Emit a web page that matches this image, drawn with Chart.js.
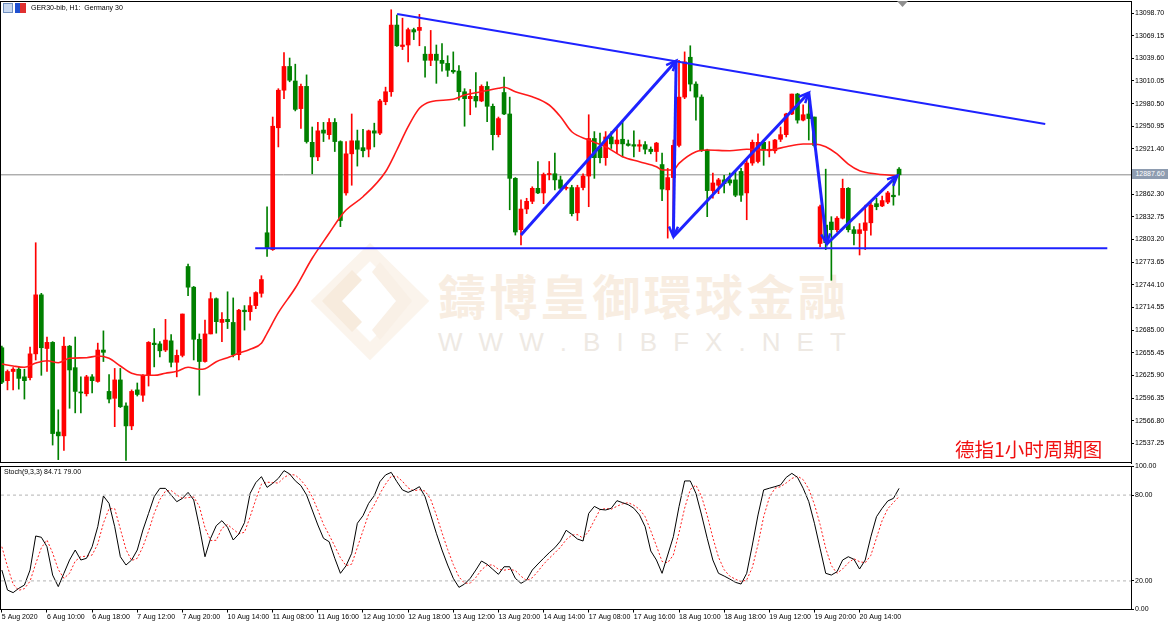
<!DOCTYPE html>
<html>
<head>
<meta charset="utf-8">
<script src="https://cdn.jsdelivr.net/npm/chart.js@4.4.0/dist/chart.umd.min.js"></script>
<style>
body{margin:0;background:#fff;}
#wrap{position:relative;width:1170px;height:622px;overflow:hidden;background:#fff;font-family:"Liberation Sans",Arial,sans-serif;}
.layer{position:absolute;left:0;}
.txt{position:absolute;white-space:pre;color:#000;font-size:7px;}
.wm{position:absolute;display:flex;justify-content:space-between;}
</style>
</head>
<body>
<div id="wrap">
  <!-- watermark behind the transparent canvases -->
  <svg class="layer" style="top:0" width="1170" height="466">
    <polygon points="370,252 420,301 370,351 320,301" fill="none" stroke="#fbf4ec" stroke-width="13"/>
    <polygon points="352,270 322,301 352,332 362,322 342,301 362,280" fill="#f7ebdd"/>
    <polygon points="380,262 412,301 380,340 372,330 396,301 372,272" fill="#f9f0e6"/>
  </svg>
  <div class="wm" style="left:438px;top:259px;width:408px;font:700 48px 'Noto Sans CJK TC';color:#f8ede1;">
    <span>鑄</span><span>博</span><span>皇</span><span>御</span><span>環</span><span>球</span><span>金</span><span>融</span>
  </div>
  <div class="wm" style="left:438px;top:327px;width:408px;font:26px 'Liberation Sans';color:#eee9e3;">
    <span>W</span><span>W</span><span>W</span><span>.</span><span>B</span><span>I</span><span>B</span><span>F</span><span>X</span><span>.</span><span>N</span><span>E</span><span>T</span>
  </div>

  <div class="layer" style="top:0"><canvas id="mainChart" width="1170" height="466"></canvas></div>
  <div class="layer" style="top:458px"><canvas id="stochChart" width="1170" height="164"></canvas></div>

  <div style="position:absolute;left:3px;top:3px;width:10px;height:10px;background:#c8d8f0;border:1px solid #7090c0;box-sizing:border-box"></div>
  <div style="position:absolute;left:15px;top:3px;width:5px;height:10px;background:#2050d0"></div>
  <div style="position:absolute;left:20px;top:3px;width:6px;height:10px;background:#e03030"></div>
  <div class="txt" style="left:31px;top:4px;">GER30-bib, H1:  Germany 30</div>
  <div class="txt" style="left:4px;top:468px;">Stoch(9,3,3) 84.71 79.00</div>
  <div style="position:absolute;left:955px;top:434px;font:19.5px 'Noto Sans CJK SC';color:#f01010;">德指1小时周期图</div>
  <div id="priceTag" class="txt" style="left:1132px;top:169px;width:36px;height:10px;line-height:10px;background:#8e9cb0;color:#fff;text-align:center;"></div>
  <svg style="position:absolute;left:897px;top:0" width="12" height="8"><polygon points="0,1 11,1 5.5,7" fill="#909090"/></svg>
</div>

<script>
// ---- data ----
const timeLabels = ['5 Aug 2020','6 Aug 10:00','6 Aug 18:00','7 Aug 12:00','7 Aug 20:00','10 Aug 14:00',
  '11 Aug 08:00','11 Aug 16:00','12 Aug 10:00','12 Aug 18:00','13 Aug 12:00','13 Aug 20:00','14 Aug 14:00',
  '17 Aug 08:00','17 Aug 16:00','18 Aug 10:00','18 Aug 18:00','19 Aug 12:00','19 Aug 20:00','20 Aug 14:00'];
const labelStep = 8;

const priceTicks = [13098.70,13069.15,13039.60,13010.05,12980.50,12950.95,12921.40,12891.85,12862.30,12832.75,
  12803.20,12773.65,12744.10,12714.55,12685.00,12655.45,12625.90,12596.35,12566.80,12537.25];
const stochTicks = [100,80,20,0];
const stochLevels = [80,20];

const opens = [12662,12619,12631,12634,12624,12623,12654,12731,12661,12669,
  12552,12547,12664,12636,12604,12602,12624,12618,12659,12605,
  12596,12620,12586,12560,12607,12600,12626,12668,12667,12659,
  12671,12643,12652,12768,12741,12673,12644,12680,12726,12695,
  12699,12695,12653,12711,12709,12717,12733,12812,12790,12949,
  12998,13029,13010,12974,13003,12930,12911,12946,12940,12956,
  12931,12864,12915,12932,12923,12921,12945,12942,12983,12996,
  13083,13055,13057,13077,13076,13045,13037,13045,13037,13033,
  13024,13023,12996,12987,12990,12984,13003,12977,12940,12995,
  12967,12883,12816,12843,12853,12870,12864,12888,12889,12881,
  12870,12871,12838,12871,12886,12935,12924,12910,12937,12928,
  12934,12928,12927,12925,12927,12921,12918,12901,12868,12884,
  12926,12989,13041,13006,12989,12920,12867,12874,12881,12881,
  12881,12892,12864,12903,12905,12930,12919,12919,12934,12940,
  12967,12993,12959,12967,12963,12798,12822,12826,12816,12831,
  12870,12816,12811,12815,12825,12850,12847,12852,12861,12895];
const highs = [12664,12633,12636,12637,12634,12663,12799,12733,12676,12670,
  12581,12676,12665,12676,12624,12626,12627,12668,12684,12627,
  12635,12635,12590,12607,12616,12627,12670,12687,12670,12699,
  12679,12659,12706,12771,12742,12680,12698,12734,12727,12708,
  12735,12727,12712,12717,12728,12735,12756,12846,12963,13000,
  13047,13040,13032,13006,13018,12950,12956,12956,12961,12961,
  12932,12931,12967,12946,12947,12946,12955,12986,13002,13103,
  13096,13092,13079,13079,13097,13055,13076,13057,13059,13043,
  13048,13030,13000,12999,13021,13005,13009,12980,12963,13015,
  12989,12884,12855,12857,12872,12905,12890,12905,12916,12886,
  12874,12874,12874,12889,12966,12944,12942,12944,12944,12948,
  12957,12933,12945,12933,12931,12924,12930,12916,12896,12933,
  13037,13048,13056,13009,12992,12921,12890,12883,12887,12890,
  12892,12896,12907,12933,12941,12933,12931,12934,12950,12968,
  12993,12994,12979,12994,12963,12848,12895,12833,12833,12882,
  12871,12820,12824,12848,12853,12857,12860,12866,12881,12897];
const lows = [12615,12607,12607,12608,12595,12620,12646,12626,12631,12535,
  12516,12528,12583,12577,12577,12599,12603,12617,12644,12590,
  12559,12584,12515,12555,12599,12592,12612,12637,12650,12657,
  12637,12624,12650,12730,12646,12600,12643,12680,12681,12670,
  12687,12650,12646,12685,12698,12713,12728,12781,12789,12924,
  12987,13009,12971,12948,12929,12889,12906,12931,12934,12918,
  12820,12861,12874,12899,12911,12911,12924,12940,12979,12990,
  13055,13051,13035,13064,13056,13015,13030,13007,13023,13016,
  13020,12985,12951,12966,12976,12983,12957,12920,12937,12966,
  12842,12809,12796,12837,12850,12863,12850,12881,12868,12868,
  12868,12834,12828,12868,12846,12883,12903,12900,12922,12916,
  12911,12925,12911,12918,12915,12915,12905,12854,12805,12809,
  12924,12987,12997,12959,12918,12833,12857,12863,12864,12874,
  12859,12853,12829,12900,12903,12900,12911,12916,12931,12937,
  12966,12955,12958,12933,12924,12794,12790,12750,12813,12830,
  12813,12796,12783,12790,12809,12842,12846,12850,12848,12861];
const closes = [12617,12631,12634,12622,12619,12654,12731,12662,12669,12550,
  12547,12664,12633,12605,12603,12624,12619,12659,12656,12595,
  12620,12585,12560,12605,12601,12626,12669,12666,12658,12672,
  12643,12652,12706,12741,12673,12644,12680,12726,12696,12699,
  12696,12653,12711,12709,12717,12734,12751,12792,12951,12998,
  13029,13011,12973,13003,12931,12911,12945,12942,12956,12931,
  12828,12915,12932,12921,12919,12945,12942,12984,12996,13083,
  13056,13057,13077,13074,13080,13037,13045,13037,13033,13024,
  13022,12996,12987,12990,12984,13003,12977,12940,12961,12967,
  12883,12813,12843,12853,12870,12864,12888,12889,12881,12870,
  12871,12837,12871,12886,12935,12910,12910,12937,12928,12933,
  12928,12926,12925,12927,12921,12918,12929,12869,12884,12926,
  12989,13035,13006,12989,12920,12867,12877,12881,12876,12877,
  12861,12861,12903,12930,12930,12920,12921,12933,12940,12967,
  12993,12959,12966,12961,12926,12846,12799,12816,12831,12870,
  12816,12811,12816,12825,12848,12846,12854,12864,12859,12887.6];

// moving average
const maBars = [0,2,4,6,8,10,12,15,17,19,21,23,25,27,29,31,33,35,36,38,40,42,44,46,47,49,52,55,58,60,
  61,64,68,70,72,74,76,80,82,85,88,89,91,94,97,99,101,104,107,110,113,116,117,119,120,123,125,129,132,136,
  139,142,144,146,148,150,152,155,157,159];
const maValues = [12640.8,12638.2,12636.5,12642.1,12645.1,12642.5,12648.2,12649.0,12651.2,12648.2,
  12638.2,12628.7,12626.0,12626.0,12628.7,12631.3,12636.5,12633.9,12634.6,12643.8,
  12649.0,12654.7,12660.0,12667.8,12680.8,12707.7,12739.9,12778.7,12811.3,12833.0,
  12841.7,12859.0,12891.7,12920.0,12950.4,12974.4,12983.0,12986.1,12991.7,12996.0,
  13000.5,13001.8,12996.0,12989.5,12978.7,12963.4,12943.8,12933.0,12924.3,12911.2,
  12904.7,12898.2,12893.9,12893.9,12902.6,12917.8,12920.0,12919.1,12920.9,12920.0,
  12924.3,12927.8,12927.8,12924.3,12914.8,12901.7,12893.0,12888.7,12887.4,12886.4];

const stochK = [27.6,13.6,11.8,14.8,17.1,27.6,51.4,50.5,43.9,24.1,
  16.0,25.3,34.6,41.6,34.6,35.8,43.9,57.9,79.4,74.2,
  57.9,36.9,31.1,34.6,41.6,55.6,67.2,78.9,84.7,84.7,
  80.1,75.4,77.7,81.9,76.6,57.9,36.9,49.8,58.6,62.1,
  57.5,48.6,52.8,60.7,81.2,88.7,92.9,85.4,88.2,91.7,
  97.1,94.8,90.0,86.6,80.1,69.6,59.1,49.8,47.4,35.8,
  25.3,30.6,39.3,60.3,65.6,74.2,79.6,89.4,94.1,95.9,
  89.4,83.6,81.9,83.6,85.9,78.9,66.1,53.3,41.6,31.1,
  21.8,15.5,17.8,21.8,27.6,33.9,31.6,28.1,24.6,29.9,
  29.9,21.8,18.3,20.6,27.6,31.8,35.8,39.7,43.2,47.9,
  55.4,52.6,49.3,47.9,67.2,72.1,70.0,69.6,70.8,76.1,
  74.7,73.3,70.8,66.1,57.9,40.9,34.6,25.3,38.1,50.9,
  71.9,89.9,89.9,81.2,66.1,49.8,34.6,25.3,23.4,21.3,
  19.0,17.8,25.3,45.1,66.1,83.6,84.8,85.9,87.1,92.4,
  95.2,92.4,84.8,75.4,60.3,42.8,25.3,24.1,26.4,34.6,
  36.9,35.1,28.3,34.6,50.9,64.9,70.8,75.9,77.7,84.71];
const stochD = [43.9,30.0,17.7,13.4,14.6,19.8,32.0,43.2,48.6,39.5,
  28.0,21.8,25.3,33.8,36.9,37.3,38.1,45.9,60.4,70.5,
  70.5,56.3,42.0,34.2,35.8,43.9,54.8,67.2,76.9,82.8,
  83.2,80.1,77.7,78.3,78.7,72.1,57.1,48.2,48.4,56.8,
  59.4,56.1,53.0,54.0,64.9,76.9,87.6,89.0,88.8,88.4,
  92.3,94.5,94.0,90.5,85.6,78.8,69.6,59.5,52.1,44.3,
  36.2,30.6,31.7,43.4,55.1,66.7,73.1,81.1,87.7,93.1,
  93.1,89.6,85.0,83.0,83.8,82.8,77.0,66.1,53.7,42.0,
  31.5,22.8,18.4,18.4,22.4,27.8,31.0,31.2,28.1,27.5,
  28.1,27.2,23.3,20.2,22.2,26.7,31.7,35.8,39.6,43.6,
  48.8,52.0,52.4,49.9,54.8,62.4,69.8,70.6,70.1,72.2,
  73.9,74.7,72.9,70.1,64.9,55.0,44.5,33.6,32.7,38.1,
  53.6,70.9,83.9,87.0,79.1,65.7,50.2,36.6,27.8,23.3,
  21.2,19.4,20.7,29.4,45.5,64.9,78.2,84.8,85.9,88.5,
  91.6,93.3,90.8,84.2,73.5,59.5,42.8,30.7,25.3,28.4,
  32.6,35.5,33.4,32.7,37.9,50.1,62.2,70.5,74.8,79.0];

// drawn objects (bar index, price)
const resistBars = [70.05,184.9];
const resistPrices = [13097.4,12953.9];
const supportBars = [44.9,195.9];
const supportPrices = [12791.8,12791.8];
const arrowBars = [92.0,119.5,119.0,143.0,146.2,158.7];
const arrowPrices = [12809,13036.5,12806.9,12994.8,12797.4,12886.5];

// ---- layout constants ----
const X_MIN = -0.15, X_MAX = 200.1;
const UP = '#ff0000', DOWN = '#008000';
const BLUE = '#1e22ff';
const lastPrice = closes[closes.length-1];
const FONT = {family:'"Liberation Sans", Arial, sans-serif', size:7};

document.getElementById('priceTag').textContent = lastPrice.toFixed(2);

const candleColors = closes.map((c,i) => c >= opens[i] ? UP : DOWN);

const framePlugin = {
  id:'frame',
  afterDraw(chart){
    const a = chart.chartArea, ctx = chart.ctx;
    ctx.save();
    ctx.strokeStyle = '#000';
    ctx.lineWidth = 1;
    ctx.strokeRect(Math.round(a.left)-0.5, Math.round(a.top)-0.5, Math.round(a.right-a.left)+1, Math.round(a.bottom-a.top));
    ctx.restore();
  }
};

const arrowPlugin = {
  id:'arrowHeads',
  afterDatasetsDraw(chart){
    const ctx = chart.ctx;
    chart.data.datasets.forEach((ds, di) => {
      if (!ds.arrowEnd) return;
      const pts = chart.getDatasetMeta(di).data;
      const a = pts[pts.length-2], b = pts[pts.length-1];
      const ang = Math.atan2(b.y-a.y, b.x-a.x);
      const L = 11, spread = 0.42;
      ctx.save();
      ctx.strokeStyle = ds.borderColor;
      ctx.lineWidth = 2.5;
      ctx.beginPath();
      ctx.moveTo(b.x - L*Math.cos(ang-spread), b.y - L*Math.sin(ang-spread));
      ctx.lineTo(b.x, b.y);
      ctx.lineTo(b.x - L*Math.cos(ang+spread), b.y - L*Math.sin(ang+spread));
      ctx.stroke();
      ctx.restore();
    });
  }
};

// no extra label padding: keep the plot area exactly where the layout puts it
const noPad = s => { s.paddingTop = 0; s.paddingBottom = 0; s.paddingLeft = 0; s.paddingRight = 0; };

const pts = (xs, ys) => xs.map((x,i) => ({x:x, y:ys[i]}));

const datasets = [
  {type:'line', data:[{x:X_MIN,y:lastPrice},{x:X_MAX,y:lastPrice}], borderColor:'#8a8a8a', borderWidth:1, pointRadius:0, order:10},
  {type:'bar', data:closes.map((c,i)=>({x:i, y:[lows[i], highs[i]]})), backgroundColor:candleColors, barThickness:1, grouped:false, order:8},
  {type:'bar', data:closes.map((c,i)=>({x:i, y:[opens[i], c]})), backgroundColor:candleColors, barThickness:4, minBarLength:1, grouped:false, order:7},
  {type:'line', data:pts(maBars, maValues), borderColor:'#ff1a1a', borderWidth:1.6, pointRadius:0, cubicInterpolationMode:'monotone', order:5},
  {type:'line', data:pts(resistBars, resistPrices), borderColor:BLUE, borderWidth:2, pointRadius:0, order:3},
  {type:'line', data:pts(supportBars, supportPrices), borderColor:BLUE, borderWidth:2, pointRadius:0, order:3}
];
for (let k = 0; k < arrowBars.length-1; k++) {
  datasets.push({type:'line', data:pts(arrowBars.slice(k,k+2), arrowPrices.slice(k,k+2)),
    borderColor:BLUE, borderWidth:3, pointRadius:0, arrowEnd:true, order:1});
}

new Chart(document.getElementById('mainChart'), {
  type:'bar',
  data:{datasets:datasets},
  plugins:[framePlugin, arrowPlugin],
  options:{
    responsive:false, animation:false,
    layout:{padding:{left:1, top:2, right:0, bottom:3}},
    plugins:{legend:{display:false}, tooltip:{enabled:false}},
    scales:{
      x:{type:'linear', min:X_MIN, max:X_MAX, offset:false, display:false},
      y:{position:'right', min:12511.6, max:13113.1, beginAtZero:false,
        afterBuildTicks:s => { s.ticks = priceTicks.map(v => ({value:v})); },
        afterFit:s => { s.width = 39; noPad(s); },
        ticks:{autoSkip:false, font:FONT, color:'#000', padding:1, callback:v => Number(v).toFixed(2)},
        grid:{drawOnChartArea:false, drawTicks:true, tickLength:3, color:'#000'},
        border:{color:'#000'}
      }
    }
  }
});

new Chart(document.getElementById('stochChart'), {
  type:'line',
  data:{datasets:[
    ...stochLevels.map(v => ({data:[{x:X_MIN,y:v},{x:X_MAX,y:v}], borderColor:'#b4b4b4', borderWidth:1, borderDash:[3,3], pointRadius:0})),
    {data:stochK.map((v,i)=>({x:i,y:v})), borderColor:'#000', borderWidth:1, pointRadius:0},
    {data:stochD.map((v,i)=>({x:i,y:v})), borderColor:'#ff2020', borderWidth:1, borderDash:[2,2], pointRadius:0}
  ]},
  plugins:[framePlugin],
  options:{
    responsive:false, animation:false,
    layout:{padding:{left:1, top:8.5, right:0, bottom:0}},
    plugins:{legend:{display:false}, tooltip:{enabled:false}},
    scales:{
      x:{type:'linear', min:X_MIN, max:X_MAX, offset:false, position:'bottom',
        afterBuildTicks:s => { s.ticks = timeLabels.map((t,k) => ({value:k*labelStep})); },
        afterFit:s => { s.height = 12.5; noPad(s); },
        ticks:{autoSkip:false, maxRotation:0, minRotation:0, align:'start', padding:0, font:FONT, color:'#000',
          callback:v => timeLabels[Math.round(v/labelStep)]},
        grid:{drawOnChartArea:false, drawTicks:true, tickLength:3, color:'#000'},
        border:{color:'#000'}
      },
      y:{position:'right', min:0, max:100,
        afterBuildTicks:s => { s.ticks = stochTicks.map(v => ({value:v})); },
        afterFit:s => { s.width = 39; noPad(s); },
        ticks:{autoSkip:false, font:FONT, color:'#000', padding:1, callback:v => Number(v).toFixed(2)},
        grid:{drawOnChartArea:false, drawTicks:true, tickLength:3, color:'#000'},
        border:{color:'#000'}
      }
    }
  }
});
</script>
</body>
</html>
